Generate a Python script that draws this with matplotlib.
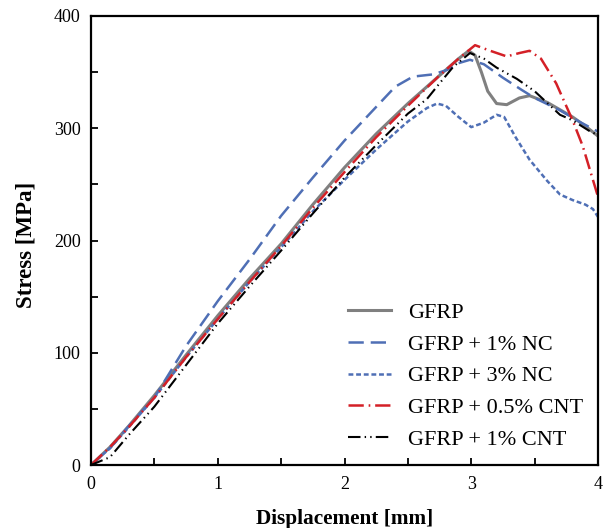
import numpy as np
import matplotlib

matplotlib.use("Agg")
import matplotlib.pyplot as plt
from matplotlib.ticker import MultipleLocator

plt.rcParams["font.family"] = ["Liberation Serif", "DejaVu Serif"]
plt.rcParams["lines.scale_dashes"] = False

# values
x_gfrp = [0, 0.15, 0.3, 0.5, 0.75, 1.0, 1.25, 1.5, 1.75, 2.0, 2.25, 2.5, 2.75, 2.9, 2.98,
          3.03, 3.08, 3.13, 3.2, 3.28, 3.38, 3.46, 3.6, 3.8, 3.9, 4.0]
y_gfrp = [0, 16, 35, 62, 98, 133, 166, 197, 232, 265, 295, 322, 347, 362, 369,
          365, 350, 333, 322, 321, 327, 329, 323, 310, 302, 293]

x_nc1 = [0, 0.15, 0.3, 0.5, 0.75, 1.0, 1.25, 1.5, 1.75, 2.0, 2.25, 2.4, 2.54, 2.7, 2.81,
         2.9, 2.99, 3.1, 3.25, 3.4, 3.5, 3.7, 3.85, 4.0]
y_nc1 = [0, 15, 35, 60, 106, 146, 183, 222, 256, 289, 319, 337, 346, 348, 352,
         358, 361, 357, 345, 334, 327, 316, 306, 297]

x_nc3 = [0, 0.15, 0.3, 0.5, 0.75, 1.0, 1.25, 1.5, 1.75, 2.0, 2.25, 2.5, 2.65, 2.73, 2.8,
         2.9, 3.0, 3.1, 3.2, 3.26, 3.35, 3.46, 3.6, 3.7, 3.8, 3.9, 3.96, 4.0]
y_nc3 = [0, 15, 34, 60, 96, 130, 163, 194, 226, 254, 281, 306, 318, 322, 320,
         310, 301, 305, 312, 310, 292, 272, 253, 241, 236, 232, 228, 221]

x_cnt05 = [0, 0.15, 0.3, 0.5, 0.75, 1.0, 1.25, 1.5, 1.75, 2.0, 2.25, 2.5, 2.75, 2.9, 3.03,
           3.15, 3.28, 3.38, 3.46, 3.55, 3.67, 3.8, 3.88, 3.96, 4.0]
y_cnt05 = [0, 16, 34, 60, 96, 130, 163, 195, 229, 261, 292, 320, 347, 362, 374,
           369, 364, 367, 369, 362, 340, 307, 284, 254, 239]

x_cnt1 = [0, 0.15, 0.3, 0.5, 0.75, 1.0, 1.25, 1.5, 1.75, 2.0, 2.25, 2.5, 2.65, 2.75, 2.86,
          2.99, 3.1, 3.2, 3.36, 3.5, 3.7, 3.8, 3.94, 4.0]
y_cnt1 = [0, 7, 27, 52, 89, 126, 159, 191, 224, 256, 285, 313, 326, 340, 355,
          367, 362, 354, 344, 333, 312, 307, 297, 294]

fig = plt.figure(figsize=(6.09, 5.28), dpi=100)
ax = fig.add_axes([91 / 609, 1 - 465 / 528, (598 - 91) / 609, (465 - 16) / 528])

ax.plot(x_gfrp, y_gfrp, "-", color="#808080", lw=2.2, label="GFRP")
ax.plot(x_nc1, y_nc1, color="#4f6fb5", lw=1.8, dashes=(11, 5), label="GFRP + 1% NC")
ax.plot(x_nc3, y_nc3, color="#4f6fb5", lw=1.8, dashes=(3.5, 2), label="GFRP + 3% NC")
ax.plot(x_cnt05, y_cnt05, color="#d42027", lw=1.8, dashes=(11, 3.5, 1.2, 3.5),
        label="GFRP + 0.5% CNT")
ax.plot(x_cnt1, y_cnt1, color="black", lw=1.5, dashes=(9, 3, 1, 3, 1, 3),
        label="GFRP + 1% CNT")

ax.set_xlim(0, 4)
ax.set_ylim(0, 400)
ax.xaxis.set_major_locator(MultipleLocator(1))
ax.xaxis.set_minor_locator(MultipleLocator(0.5))
ax.yaxis.set_major_locator(MultipleLocator(100))
ax.yaxis.set_minor_locator(MultipleLocator(50))
ax.tick_params(which="both", direction="in", width=1.3, length=5, labelsize=13)
ax.tick_params(axis="x", which="major", pad=8)
ax.tick_params(axis="y", which="major", pad=7.5)
for sp in ax.spines.values():
    sp.set_linewidth(1.6)

ax.set_xlabel("Displacement [mm]", fontsize=15.3, fontweight="bold")
ax.set_ylabel("Stress [MPa]", fontsize=16.5, fontweight="bold")
ax.xaxis.set_label_coords(0.5, -0.097)
ax.yaxis.set_label_coords(-0.108, 0.49)

ax.legend(loc="lower right", frameon=False, fontsize=16, handlelength=1.9,
          handletextpad=0.77, labelspacing=0.5, borderpad=0, borderaxespad=0,
          bbox_to_anchor=(0.970, 0.034))

plt.savefig("out.png", dpi=100)
